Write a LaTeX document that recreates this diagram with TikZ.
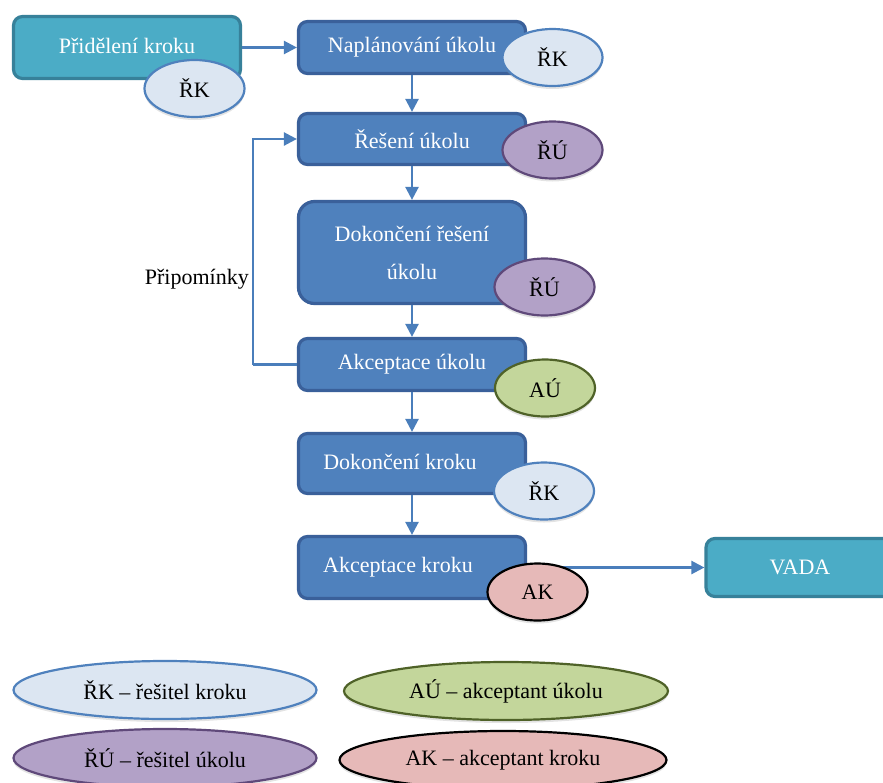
\documentclass[tikz,border=0pt]{standalone}
\usepackage{fontspec}
\setmainfont{Liberation Serif}
\usetikzlibrary{shapes.geometric,arrows.meta,shadows}

\definecolor{stepfill}{HTML}{4F81BD}
\definecolor{stepline}{HTML}{3A609A}
\definecolor{endfill}{HTML}{4BACC6}
\definecolor{endline}{HTML}{37819A}
\definecolor{flow}{HTML}{4A7EBB}
\definecolor{rkfill}{HTML}{DCE6F2}
\definecolor{rkline}{HTML}{4F81BD}
\definecolor{rufill}{HTML}{B2A1C7}
\definecolor{ruline}{HTML}{5F497A}
\definecolor{aufill}{HTML}{C3D69B}
\definecolor{auline}{HTML}{4F6228}
\definecolor{akfill}{HTML}{E6B9B8}
\definecolor{akline}{HTML}{000000}

\begin{document}
\begin{tikzpicture}[x=1pt,y=-1pt,
  txt/.style={font=\fontsize{22}{26}\selectfont},
  stepbox/.style={txt, draw=stepline, fill=stepfill, line width=3.2pt,
    rounded corners=9pt, text=white, minimum width=227pt, inner sep=0pt},
  endbox/.style={stepbox, draw=endline, fill=endfill},
  role/.style={txt, ellipse, line width=2.2pt, inner sep=0pt,
    minimum width=100pt, minimum height=57pt,
    drop shadow={shadow xshift=0pt, shadow yshift=-3pt, opacity=0.22}},
  legend/.style={role, minimum height=58pt},
  rk/.style={fill=rkfill, draw=rkline},
  ru/.style={fill=rufill, draw=ruline},
  au/.style={fill=aufill, draw=auline},
  ak/.style={fill=akfill, draw=akline},
  flowline/.style={draw=flow, line width=2.4pt, -{Triangle[length=13pt,width=13pt]}},
  plainline/.style={draw=flow, line width=2.4pt}
]
\clip (0,0) rectangle (883,782);

% process steps
\node[endbox, minimum height=62pt] (prid) at (127,47.5)
  {\raisebox{3pt}{Přidělení kroku}};
\node[stepbox, minimum height=52pt] (napl) at (412,47.5) {Naplánování úkolu};
\node[stepbox, minimum height=51pt] (res) at (412,139) {Řešení úkolu};
\node[stepbox, minimum height=102pt, rounded corners=16pt, align=center] (dokres) at (412,252.5)
  {Dokončení řešení\\[12pt]úkolu};
\node[stepbox, minimum height=52pt] (akcu) at (412,364.5) {Akceptace úkolu};
\node[stepbox, minimum height=60pt] (dokk) at (412,463.5)
  {\hspace*{-24pt}\raisebox{4pt}{Dokončení kroku}};
\node[stepbox, minimum height=62pt] (akck) at (412,567.5)
  {\hspace*{-28pt}\raisebox{5pt}{Akceptace kroku}};
\node[endbox, minimum width=200pt, minimum height=58pt] (vada) at (806,567.5)
  {\hspace*{-12pt}VADA};

% connectors
\draw[flowline] (prid) -- (napl);
\draw[flowline] (napl) -- (res);
\draw[flowline] (res) -- (dokres);
\draw[flowline] (dokres) -- (akcu);
\draw[flowline] (akcu) -- (dokk);
\draw[flowline] (dokk) -- (akck);
\draw[flowline] (akck) -- (vada);
\coordinate (loop) at (253,364.5);
\draw[plainline] (akcu.west) -- (loop);
\draw[flowline] (loop) |- (res.west);
\node[txt, anchor=east, inner sep=2pt] (pripom) at (251,279) {Připomínky};

% role markers
\node[role, rk] (e1) at (194.5,88.5) {ŘK};
\node[role, rk] (e2) at (552.5,57.5) {ŘK};
\node[role, ru] (e3) at (552.5,150) {ŘÚ};
\node[role, ru] (e4) at (544.5,287) {ŘÚ};
\node[role, au] (e5) at (545,388) {AÚ};
\node[role, rk] (e6) at (544,491) {ŘK};
\node[role, ak] (e7) at (537.5,592) {AK};

% legend
\node[legend, rk, minimum width=303pt] (l1) at (165,690) {ŘK -- řešitel kroku};
\node[legend, au, minimum width=324pt] (l2) at (506,691) {AÚ -- akceptant úkolu};
\node[legend, ru, minimum width=303pt] (l3) at (165,758) {ŘÚ -- řešitel úkolu};
\node[legend, ak, minimum width=327pt] (l4) at (503,760) {AK -- akceptant kroku};
\end{tikzpicture}
\end{document}
